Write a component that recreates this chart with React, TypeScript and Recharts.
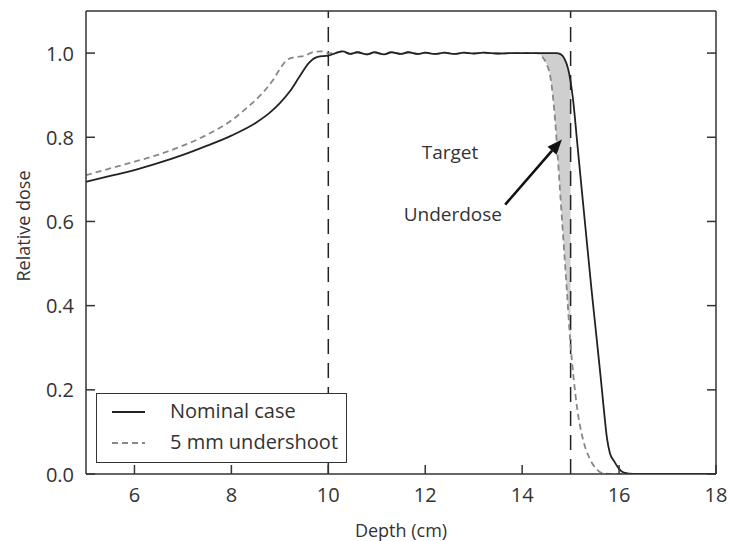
import {
  ComposedChart,
  Line,
  Area,
  XAxis,
  YAxis,
  ReferenceLine,
  ReferenceDot,
} from 'recharts'

// the page keeps the browser's 8px body margin; drop it so the chart can use the full window
if (typeof document !== 'undefined') document.body.style.margin = '0'

const depthTicks = [6, 8, 10, 12, 14, 16, 18]
const doseTicks = [0, 0.2, 0.4, 0.6, 0.8, 1.0]
const targetEdges = [10, 15]

const nominalDepth = [
  5, 5.5, 6, 6.5, 7, 7.5, 8, 8.5, 8.8, 9.0, 9.2, 9.4, 9.6, 9.75, 9.9, 10.0,
  10.15, 10.3, 10.45, 10.6, 10.8, 10.95, 11.15, 11.3, 11.5, 11.65, 11.85, 12.0,
  12.2, 12.4, 12.6, 12.8, 13.0, 13.2, 13.5, 13.8, 14.1, 14.4, 14.7, 14.8, 14.88,
  14.95, 15.05, 15.13, 15.23, 15.33, 15.43, 15.54, 15.62, 15.68, 15.75, 15.81,
  15.9, 16.0, 16.1, 16.3, 18,
]
const nominalDose = [
  0.694, 0.708, 0.722, 0.739, 0.758, 0.78, 0.804, 0.834, 0.859, 0.881, 0.908,
  0.943, 0.977, 0.99, 0.993, 0.994, 1.0, 1.004, 0.998, 1.002, 0.997, 1.002,
  0.997, 1.002, 0.998, 1.002, 0.998, 1.001, 0.998, 1.001, 0.998, 1.001, 0.999,
  1.001, 0.999, 1.0, 1.0, 1.0, 1.0, 0.997, 0.985, 0.962, 0.89, 0.795, 0.675,
  0.557, 0.44, 0.319, 0.23, 0.16, 0.085, 0.05, 0.03, 0.012, 0.003, 0, 0,
]

const undershootDepth = [
  5, 5.5, 6, 6.5, 7, 7.5, 8, 8.3, 8.6, 8.87, 9.0, 9.15, 9.3, 9.5, 9.7, 9.85,
  10.0, 10.15, 10.3, 10.45, 10.6, 10.8, 10.95, 11.15, 11.3, 11.5, 11.65, 11.85,
  12.0, 12.2, 12.4, 12.6, 12.8, 13.0, 13.2, 13.5, 13.8, 14.1, 14.3, 14.4, 14.5,
  14.58, 14.65, 14.71, 14.78, 14.85, 14.92, 14.99, 15.06, 15.13, 15.25, 15.4,
  15.55, 15.7, 16.0, 18,
]
const undershootDose = [
  0.71, 0.726, 0.742, 0.759, 0.78, 0.806, 0.84, 0.868, 0.9, 0.938, 0.962, 0.984,
  0.99, 0.993, 1.003, 1.004, 0.999, 1.001, 1.004, 0.998, 1.002, 0.997, 1.002,
  0.997, 1.002, 0.998, 1.002, 0.998, 1.001, 0.998, 1.001, 0.998, 1.001, 0.999,
  1.001, 0.999, 1.0, 1.0, 1.0, 0.993, 0.975, 0.945, 0.88, 0.795, 0.675, 0.557,
  0.44, 0.319, 0.23, 0.16, 0.085, 0.035, 0.01, 0.001, 0, 0,
]

// underdosed part of the target: between the two curves, up to the distal edge
const underdoseDepth = [14.3, 14.4, 14.5, 14.58, 14.65, 14.71, 14.78, 14.85, 14.92, 15.0]
const underdoseLow = [1.0, 0.993, 0.975, 0.945, 0.88, 0.795, 0.675, 0.557, 0.44, 0.31]
const underdoseHigh = [1.0, 1.0, 1.0, 1.0, 1.0, 1.0, 0.998, 0.992, 0.975, 0.93]

const arrowFrom = { x: 13.65, y: 0.64 }
const arrowTo = { x: 14.82, y: 0.795 }

const FONT = '"Open Sans", "Noto Sans", sans-serif'
const INK = '#333'
const TICK_LEN = 9

const nominalData = nominalDepth.map((depth, i) => ({ depth, dose: nominalDose[i] }))
const undershootData = undershootDepth.map((depth, i) => ({ depth, dose: undershootDose[i] }))
const underdoseData = underdoseDepth.map((depth, i) => ({
  depth,
  band: [underdoseLow[i], underdoseHigh[i]],
}))

// ticks point into the plot on all four sides
function InTick(props: any) {
  const { x, y, payload, side } = props
  const mark = { stroke: INK, strokeWidth: 1.5 }
  if (side === 'bottom') {
    return (
      <g>
        <line x1={x} y1={y} x2={x} y2={y - TICK_LEN} {...mark} />
        <text x={x} y={y + 28} textAnchor="middle" fontFamily={FONT} fontSize={20} fill={INK}>
          {payload.value}
        </text>
      </g>
    )
  }
  if (side === 'top') return <line x1={x} y1={y} x2={x} y2={y + TICK_LEN} {...mark} />
  if (side === 'left') {
    return (
      <g>
        <line x1={x} y1={y} x2={x + TICK_LEN} y2={y} {...mark} />
        <text x={x - 12} y={y} textAnchor="end" dominantBaseline="central" fontFamily={FONT} fontSize={20} fill={INK}>
          {Number(payload.value).toFixed(1)}
        </text>
      </g>
    )
  }
  return <line x1={x} y1={y} x2={x - TICK_LEN} y2={y} {...mark} />
}

function Arrow(props: any) {
  const { x1, y1, x2, y2 } = props
  if (x1 == null) return null
  const dx = x2 - x1
  const dy = y2 - y1
  const len = Math.sqrt(dx * dx + dy * dy)
  const ux = dx / len
  const uy = dy / len
  const head = 15
  const half = 6
  const bx = x2 - ux * head
  const by = y2 - uy * head
  return (
    <g>
      <line x1={x1} y1={y1} x2={bx} y2={by} stroke="#111" strokeWidth={2.6} />
      <polygon
        points={`${x2},${y2} ${bx - uy * half},${by + ux * half} ${bx + uy * half},${by - ux * half}`}
        fill="#111"
      />
    </g>
  )
}

function Note({ text }: { text: string }) {
  return (props: any) => (
    <text
      x={props.cx}
      y={props.cy}
      textAnchor="middle"
      dominantBaseline="central"
      fontFamily={FONT}
      fontSize={19}
      fill={INK}
    >
      {text}
    </text>
  )
}

function LegendBox() {
  return (
    <div
      style={{
        position: 'absolute',
        left: 96,
        top: 393,
        width: 251,
        height: 70,
        boxSizing: 'border-box',
        border: `1.5px solid ${INK}`,
        background: '#fff',
        fontFamily: FONT,
        fontSize: 20,
        color: INK,
      }}
    >
      <svg width={60} height={70} style={{ position: 'absolute', left: 0, top: 0 }}>
        <line x1={15} x2={48} y1={18} y2={18} stroke="#222" strokeWidth={1.8} />
        <line x1={15} x2={48} y1={49} y2={49} stroke="#888" strokeWidth={1.8} strokeDasharray="6 4" />
      </svg>
      <div style={{ position: 'absolute', left: 73, top: 3, lineHeight: '28px', whiteSpace: 'nowrap' }}>Nominal case</div>
      <div style={{ position: 'absolute', left: 73, top: 34, lineHeight: '28px', whiteSpace: 'nowrap' }}>5 mm undershoot</div>
    </div>
  )
}

const frameLine = { stroke: INK, strokeWidth: 1.5 }

export default function App() {
  return (
    <div style={{ position: 'relative', width: 729, height: 541, overflow: 'hidden' }}>
      <ComposedChart width={729} height={541} margin={{ top: 10, right: 12, left: 0, bottom: 0 }}>
        <XAxis
          dataKey="depth"
          type="number"
          domain={[5, 18]}
          ticks={depthTicks}
          allowDataOverflow
          height={67}
          tickSize={0}
          tickMargin={0}
          tickLine={false}
          tick={<InTick side="bottom" />}
          axisLine={frameLine}
          label={{ value: 'Depth (cm)', position: 'insideBottom', offset: 4, fontSize: 18, fill: INK, fontFamily: FONT }}
        />
        <XAxis
          xAxisId="top"
          orientation="top"
          type="number"
          domain={[5, 18]}
          ticks={depthTicks}
          allowDataOverflow
          height={1}
          tickSize={0}
          tickMargin={0}
          tickLine={false}
          tick={<InTick side="top" />}
          axisLine={frameLine}
        />
        <YAxis
          type="number"
          domain={[0, 1.1]}
          ticks={doseTicks}
          allowDataOverflow
          width={86}
          tickSize={0}
          tickMargin={0}
          tickLine={false}
          tick={<InTick side="left" />}
          axisLine={frameLine}
          label={{
            content: () => (
              <text
                x={23}
                y={226}
                transform="rotate(-90, 23, 226)"
                textAnchor="middle"
                dominantBaseline="central"
                fontFamily={FONT}
                fontSize={18}
                fill={INK}
              >
                Relative dose
              </text>
            ),
          }}
        />
        <YAxis
          yAxisId="right"
          orientation="right"
          type="number"
          domain={[0, 1.1]}
          ticks={doseTicks}
          allowDataOverflow
          width={1}
          tickSize={0}
          tickMargin={0}
          tickLine={false}
          tick={<InTick side="right" />}
          axisLine={frameLine}
        />

        <Area
          data={underdoseData}
          dataKey="band"
          type="monotone"
          stroke="none"
          fill="#cfcfcf"
          fillOpacity={1}
          isAnimationActive={false}
          legendType="none"
        />

        {targetEdges.map((x) => (
          <ReferenceLine key={x} x={x} stroke="#222" strokeWidth={1.5} strokeDasharray="15 9" />
        ))}

        <Line
          data={undershootData}
          dataKey="dose"
          type="monotone"
          stroke="#888"
          strokeWidth={1.8}
          strokeDasharray="6 4"
          dot={false}
          isAnimationActive={false}
        />
        <Line
          data={nominalData}
          dataKey="dose"
          type="monotone"
          stroke="#222"
          strokeWidth={1.8}
          dot={false}
          isAnimationActive={false}
        />

        <ReferenceLine segment={[arrowFrom, arrowTo]} shape={Arrow} />
        <ReferenceDot x={12.51} y={0.764} r={0} shape={Note({ text: 'Target' })} />
        <ReferenceDot x={12.57} y={0.617} r={0} shape={Note({ text: 'Underdose' })} />
      </ComposedChart>
      <LegendBox />
    </div>
  )
}
